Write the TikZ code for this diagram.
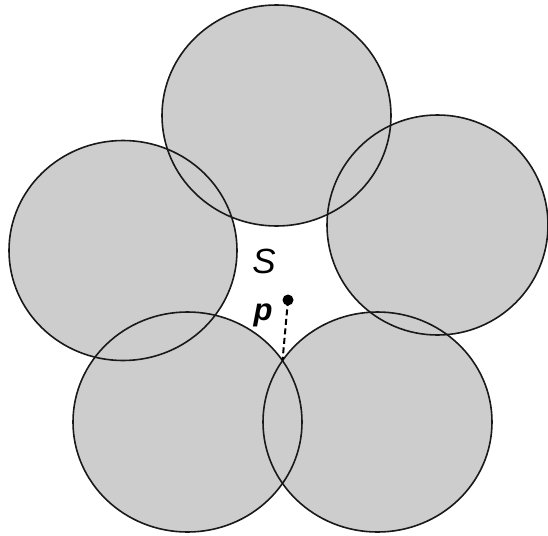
\documentclass[tikz,border=0pt]{standalone}
\usepackage{fontspec}
\setmainfont{Liberation Sans}
\definecolor{cfill}{RGB}{205,205,205}
\begin{document}
\begin{tikzpicture}[x=1pt,y=-1pt,
  disc/.style={fill=cfill},
  rim/.style={draw=black!90,line width=1.6pt},
  lbl/.style={inner sep=0pt,anchor=base}]
\useasboundingbox (0,0) rectangle (548,535);
% fills
\fill[disc] (276.5,115.5) ellipse [x radius=114.5,y radius=110.5];
\fill[disc] (437.5,225) ellipse [x radius=110.5,y radius=110];
\fill[disc] (123,250.5) ellipse [x radius=114,y radius=110];
\fill[disc] (187.5,422) ellipse [x radius=114.5,y radius=110];
\fill[disc] (377.5,422) ellipse [x radius=114.5,y radius=110];
% outlines
\draw[rim] (276.5,115.5) ellipse [x radius=114.5,y radius=110.5];
\draw[rim] (437.5,225) ellipse [x radius=110.5,y radius=110];
\draw[rim] (123,250.5) ellipse [x radius=114,y radius=110];
\draw[rim] (187.5,422) ellipse [x radius=114.5,y radius=110];
\draw[rim] (377.5,422) ellipse [x radius=114.5,y radius=110];
% labels
\node[lbl] (S) at (264,273) {\fontsize{35}{35}\selectfont\itshape S};
\node[lbl] (p) at (263,320) {\fontsize{31}{31}\selectfont\bfseries\itshape p};
% point and dashed segment
\node[circle,fill=black,inner sep=0pt,minimum size=11pt] (dot) at (288,300) {};
\coordinate (x) at (282.5,360.5);
\draw[line width=2pt,dash pattern=on 6pt off 3.5pt] (dot.center) -- (x);
\end{tikzpicture}
\end{document}
